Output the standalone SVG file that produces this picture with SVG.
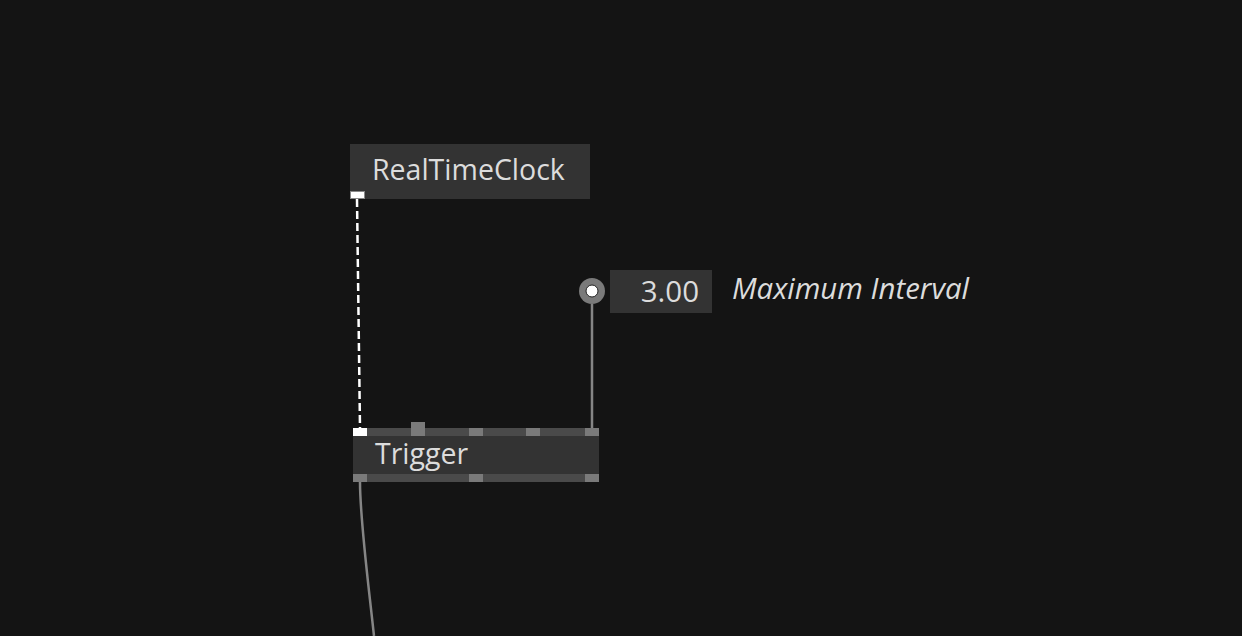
<svg xmlns="http://www.w3.org/2000/svg" width="1242" height="636" viewBox="0 0 1242 636">
<style>
.lbl{font-family:"Open Sans","Noto Sans","Liberation Sans",sans-serif;font-size:28.5px;fill:#dcdcdc}
.body{fill:#333333}
.bar{fill:#4a4a4a}
.pin{fill:#7a7a7a}
.link{fill:none;stroke:#858585;stroke-width:2.5}
</style>
<rect width="1242" height="636" fill="#141414"/>
<g id="connectors">
<line x1="357" y1="199" x2="360" y2="428" stroke="#ffffff" stroke-width="2.5" stroke-dasharray="8 4"/>
<line class="link" x1="592" y1="304" x2="592" y2="428"/>
<path class="link" d="M360 482 C360 520 368 580 374 636"/>
</g>
<g id="RealTimeClock">
<rect class="body" x="350" y="144" width="240" height="55"/>
<text class="lbl" x="372" y="180">RealTimeClock</text>
<rect x="350.5" y="191.5" width="14" height="7" fill="#ffffff" stroke="#888" stroke-width="1"/>
</g>
<g id="MaximumInterval">
<circle cx="592" cy="291" r="13" fill="#7a7a7a"/>
<circle cx="592" cy="291" r="6" fill="#ffffff" stroke="#222" stroke-width="1"/>
<rect class="body" x="610" y="270" width="102" height="43"/>
<text class="lbl" x="699" y="302" text-anchor="end" style="font-size:29.5px">3.00</text>
<text class="lbl" x="732" y="299" style="font-size:29.4px;font-style:italic">Maximum Interval</text>
</g>
<g id="Trigger">
<rect class="bar" x="353" y="428" width="246" height="8"/>
<rect class="body" x="353" y="436" width="246" height="38"/>
<rect class="bar" x="353" y="474" width="246" height="8"/>
<rect x="353" y="428" width="14" height="8" fill="#ffffff"/>
<rect class="pin" x="411" y="422" width="14" height="14"/>
<rect class="pin" x="469" y="428" width="14" height="8"/>
<rect class="pin" x="526" y="428" width="14" height="8"/>
<rect class="pin" x="585" y="428" width="14" height="8"/>
<rect class="pin" x="353" y="474" width="14" height="8"/>
<rect class="pin" x="469" y="474" width="14" height="8"/>
<rect class="pin" x="585" y="474" width="14" height="8"/>
<text class="lbl" x="375" y="464">Trigger</text>
</g>
</svg>
